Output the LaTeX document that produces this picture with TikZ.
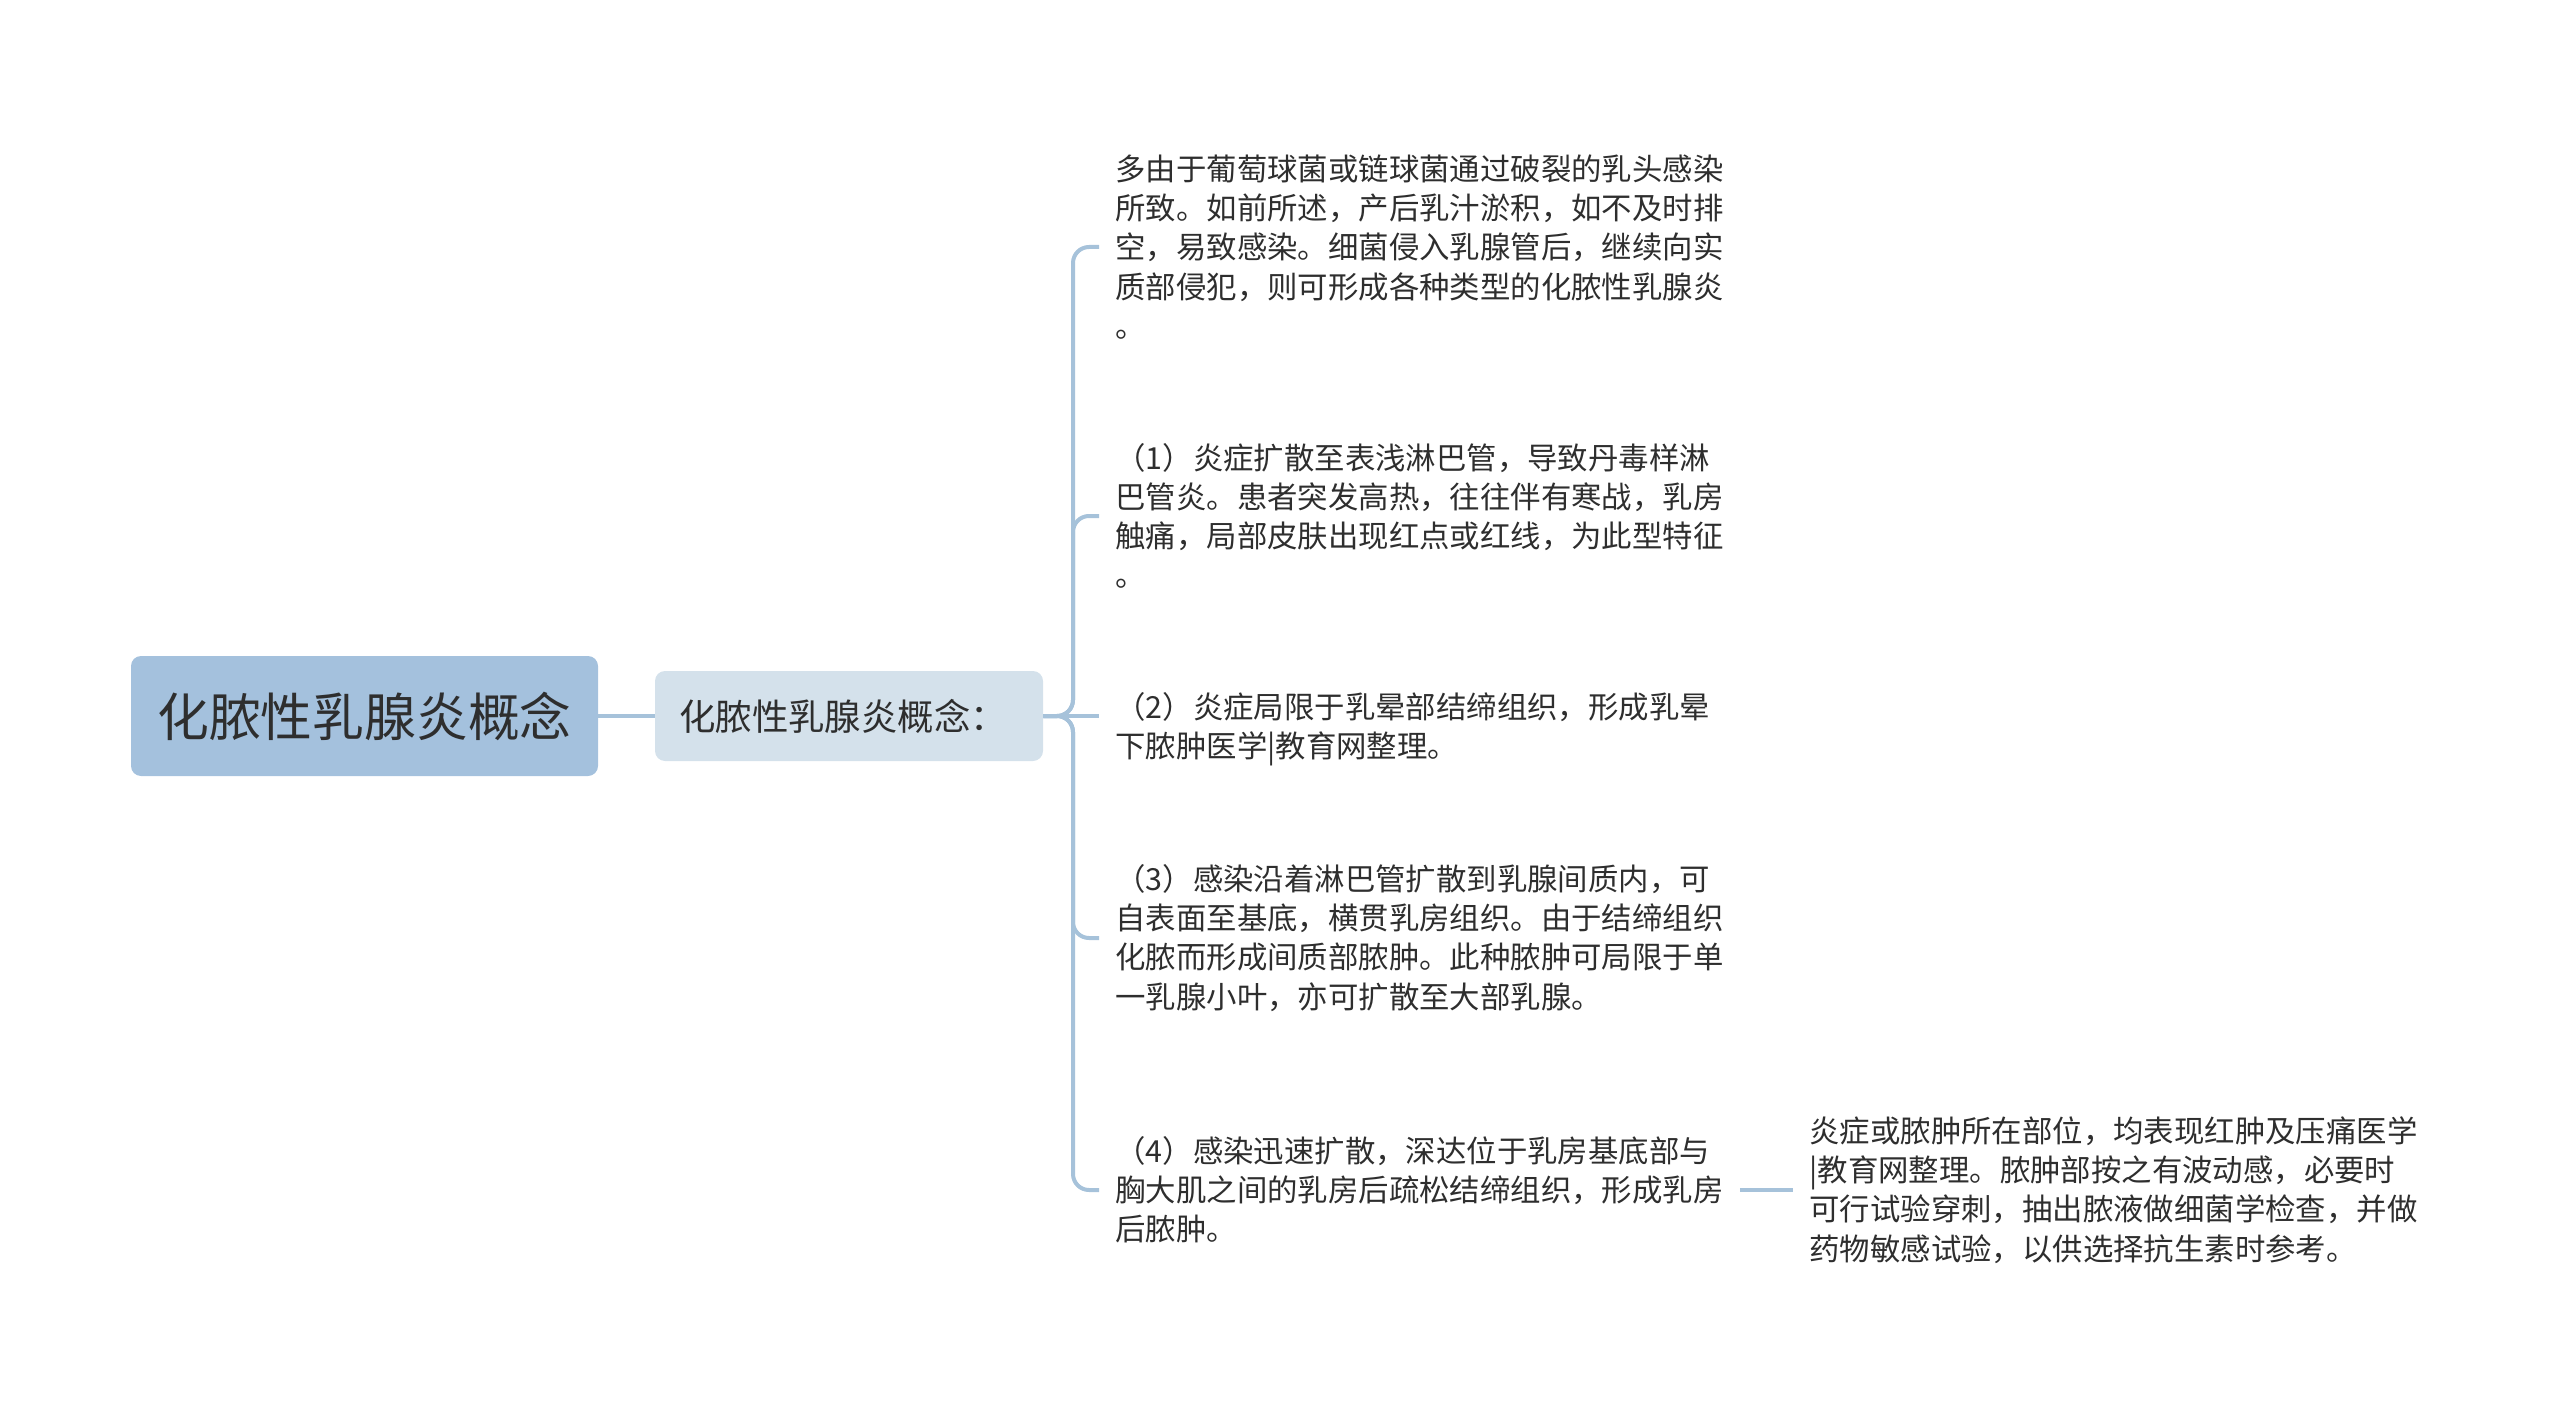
\documentclass[tikz,border=0pt]{standalone}
\usepackage{fontspec}
\usepackage{xcolor}
\newfontfamily\cjk{Noto Sans CJK SC}
\definecolor{rootblue}{HTML}{A4C1DD}
\definecolor{subblue}{HTML}{D4E1EB}
\definecolor{linkblue}{HTML}{A6C2DA}
\definecolor{inkgray}{HTML}{2E2E2E}
\usetikzlibrary{calc}

\begin{document}
\begin{tikzpicture}[x=0.5pt,y=-0.5pt,
  rootbox/.style={fill=rootblue, rounded corners=5pt, minimum width=233.5pt, minimum height=60pt,
    text=inkgray, font=\cjk\fontsize{25.9pt}{30pt}\selectfont},
  subbox/.style={fill=subblue, rounded corners=5pt, minimum width=194pt, minimum height=45pt,
    text=inkgray, font=\cjk\fontsize{18.2pt}{22pt}\selectfont},
  leaf/.style={anchor=west, align=left, inner xsep=8pt, inner ysep=0pt, text=inkgray,
    font=\cjk\fontsize{15.2pt}{19.6pt}\selectfont},
  link/.style={draw=linkblue, line width=2pt, rounded corners=8pt}]

\useasboundingbox (0,0) rectangle (2560,1412);

% Draw boxes
\node[rootbox] (root) at (364.5,716) {化脓性乳腺炎概念};
\node[subbox] (sub) at (849,716) {\hspace*{-6pt}化脓性乳腺炎概念：};

% Draw leaves
\node[leaf] (leafa) at (1099,247) {多由于葡萄球菌或链球菌通过破裂的乳头感染\\所致。如前所述，产后乳汁淤积，如不及时排\\空，易致感染。细菌侵入乳腺管后，继续向实\\质部侵犯，则可形成各种类型的化脓性乳腺炎\\。};
\node[leaf] (leafb) at (1099,516) {（1）炎症扩散至表浅淋巴管，导致丹毒样淋\\巴管炎。患者突发高热，往往伴有寒战，乳房\\触痛，局部皮肤出现红点或红线，为此型特征\\。};
\node[leaf] (leafc) at (1099,729) {（2）炎症局限于乳晕部结缔组织，形成乳晕\\下脓肿医学|教育网整理。};
\node[leaf] (leafd) at (1099,938) {（3）感染沿着淋巴管扩散到乳腺间质内，可\\自表面至基底，横贯乳房组织。由于结缔组织\\化脓而形成间质部脓肿。此种脓肿可局限于单\\一乳腺小叶，亦可扩散至大部乳腺。};
\node[leaf] (leafe) at (1099,1190) {（4）感染迅速扩散，深达位于乳房基底部与\\胸大肌之间的乳房后疏松结缔组织，形成乳房\\后脓肿。};
\node[leaf] (leaff) at (1793,1190) {炎症或脓肿所在部位，均表现红肿及压痛医学\\|教育网整理。脓肿部按之有波动感，必要时\\可行试验穿刺，抽出脓液做细菌学检查，并做\\药物敏感试验，以供选择抗生素时参考。};

% Draw connectors
\coordinate (spine) at (1073,716);
\draw[link] (root.east) -- (sub.west);
\foreach \n in {leafa,leafb,leafd,leafe}
  \draw[link] (sub.east) -- (spine) |- (\n.west);
\draw[link] (sub.east) -- (spine) -- (spine -| leafc.west);
\draw[link] (leafe.east) -- (leaff.west);

\end{tikzpicture}
\end{document}
